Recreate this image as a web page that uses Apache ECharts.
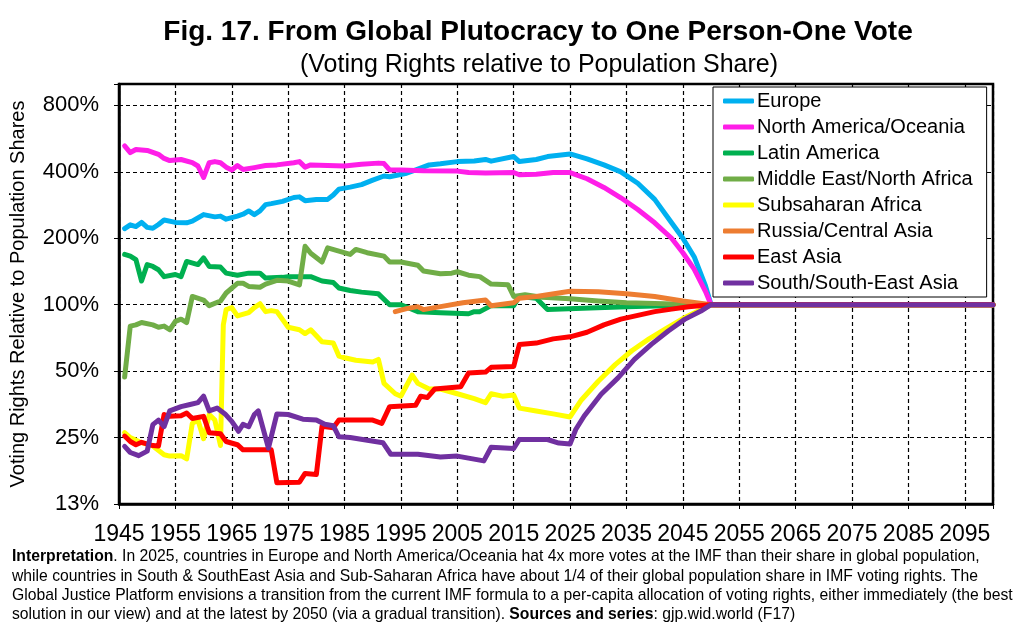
<!DOCTYPE html>
<html>
<head>
<meta charset="utf-8">
<script src="https://cdn.jsdelivr.net/npm/echarts@6/dist/echarts.min.js"></script>
<style>
  html, body { margin: 0; padding: 0; background: #fff; }
  #chart { width: 1024px; height: 632px; }
</style>
</head>
<body>
<div id="chart"></div>
<script>
// 数据：每个序列为 [年份, 投票权/人口份额]
const europe = [[1946,2.21],[1947,2.30],[1948,2.26],[1949,2.36],[1950,2.24],[1951,2.22],[1952,2.31],[1953,2.42],[1955,2.36],[1957,2.35],[1958,2.39],[1960,2.56],[1962,2.50],[1963,2.52],[1964,2.44],[1966,2.52],[1967,2.57],[1968,2.66],[1969,2.56],[1970,2.66],[1971,2.84],[1972,2.87],[1974,2.94],[1976,3.06],[1977,3.08],[1978,2.96],[1980,3.00],[1982,3.00],[1983,3.14],[1984,3.34],[1986,3.41],[1988,3.50],[1990,3.67],[1992,3.83],[1993,3.80],[1996,3.94],[1998,4.11],[2000,4.30],[2002,4.35],[2005,4.45],[2008,4.48],[2010,4.55],[2011,4.47],[2015,4.69],[2016,4.45],[2019,4.55],[2021,4.69],[2025,4.82],[2028,4.58],[2031,4.30],[2034,4.00],[2037,3.55],[2040,3.00],[2043,2.35],[2045,2.00],[2047,1.65],[2049,1.22],[2050,1.00],[2100,1.00]];
const northAmerica = [[1946,5.24],[1947,4.89],[1948,5.05],[1950,5.00],[1952,4.80],[1953,4.60],[1954,4.50],[1956,4.55],[1958,4.40],[1959,4.25],[1960,3.77],[1961,4.40],[1962,4.45],[1963,4.40],[1964,4.20],[1965,4.08],[1966,4.27],[1967,4.10],[1969,4.18],[1971,4.27],[1973,4.30],[1976,4.40],[1977,4.45],[1978,4.20],[1979,4.30],[1982,4.27],[1985,4.25],[1988,4.33],[1991,4.38],[1992,4.36],[1993,4.08],[1995,4.08],[1999,4.04],[2005,4.03],[2007,3.97],[2010,3.95],[2015,3.97],[2016,3.88],[2019,3.90],[2022,3.97],[2025,3.97],[2028,3.72],[2031,3.40],[2034,3.05],[2037,2.70],[2040,2.35],[2043,2.00],[2045,1.72],[2047,1.45],[2049,1.15],[2050,1.00],[2100,1.00]];
const latinAmerica = [[1946,1.69],[1947,1.66],[1948,1.60],[1949,1.28],[1950,1.52],[1951,1.49],[1952,1.44],[1953,1.34],[1955,1.37],[1956,1.34],[1957,1.57],[1959,1.52],[1960,1.63],[1961,1.49],[1963,1.48],[1964,1.39],[1966,1.36],[1968,1.39],[1970,1.39],[1971,1.32],[1974,1.33],[1975,1.34],[1979,1.34],[1981,1.28],[1983,1.26],[1984,1.19],[1986,1.16],[1988,1.14],[1991,1.12],[1993,1.00],[1995,1.00],[1998,0.93],[2002,0.92],[2007,0.91],[2008,0.93],[2009,0.93],[2011,0.99],[2015,0.99],[2016,1.09],[2019,1.07],[2021,0.95],[2026,0.96],[2035,0.98],[2045,0.995],[2050,1.00],[2100,1.00]];
const middleEast = [[1946,0.47],[1947,0.80],[1948,0.81],[1949,0.83],[1951,0.81],[1952,0.79],[1953,0.80],[1954,0.77],[1955,0.84],[1956,0.86],[1957,0.83],[1958,1.09],[1960,1.05],[1961,0.99],[1963,1.04],[1964,1.13],[1966,1.25],[1967,1.25],[1968,1.21],[1970,1.20],[1971,1.24],[1973,1.29],[1975,1.28],[1977,1.23],[1978,1.84],[1979,1.71],[1981,1.56],[1982,1.81],[1984,1.75],[1986,1.69],[1987,1.78],[1989,1.72],[1992,1.66],[1993,1.56],[1995,1.56],[1998,1.51],[1999,1.42],[2002,1.38],[2004,1.39],[2005,1.41],[2007,1.36],[2009,1.34],[2011,1.24],[2014,1.23],[2015,1.09],[2017,1.11],[2020,1.08],[2025,1.065],[2030,1.04],[2035,1.02],[2045,1.005],[2050,1.00],[2100,1.00]];
const subsaharan = [[1946,0.263],[1947,0.25],[1949,0.237],[1951,0.229],[1953,0.209],[1954,0.206],[1956,0.207],[1957,0.20],[1958,0.29],[1959,0.30],[1960,0.247],[1961,0.318],[1962,0.30],[1963,0.23],[1963.5,0.81],[1964,0.95],[1965,0.97],[1966,0.89],[1968,0.92],[1969,0.97],[1970,1.01],[1971,0.93],[1972,0.94],[1973,0.93],[1975,0.79],[1977,0.77],[1978,0.74],[1979,0.77],[1981,0.68],[1983,0.67],[1984,0.585],[1985,0.575],[1987,0.56],[1990,0.55],[1991,0.565],[1992,0.44],[1994,0.395],[1995,0.385],[1997,0.48],[1998,0.44],[2000,0.415],[2002,0.415],[2005,0.395],[2008,0.375],[2010,0.36],[2011,0.395],[2013,0.385],[2015,0.39],[2016,0.34],[2019,0.33],[2022,0.32],[2025,0.31],[2027,0.37],[2030,0.45],[2033,0.535],[2036,0.62],[2039,0.70],[2042,0.78],[2045,0.865],[2048,0.945],[2050,1.00],[2100,1.00]];
const russia = [[1994,0.93],[1996,0.96],[1998,0.98],[1999,0.95],[2002,0.98],[2006,1.02],[2010,1.05],[2011,0.99],[2015,1.02],[2016,1.07],[2019,1.09],[2023,1.13],[2025,1.15],[2030,1.145],[2035,1.12],[2040,1.09],[2045,1.04],[2050,1.00],[2100,1.00]];
const eastAsia = [[1946,0.254],[1947,0.24],[1948,0.232],[1949,0.238],[1951,0.23],[1952,0.229],[1953,0.318],[1954,0.312],[1956,0.314],[1957,0.323],[1958,0.305],[1960,0.312],[1961,0.263],[1963,0.26],[1964,0.24],[1966,0.232],[1967,0.22],[1972,0.22],[1973,0.156],[1977,0.157],[1978,0.172],[1980,0.17],[1981,0.281],[1983,0.277],[1984,0.30],[1990,0.30],[1991.6,0.29],[1993,0.345],[1997.6,0.35],[1998.5,0.385],[1999.7,0.38],[2001,0.415],[2005.6,0.425],[2007,0.49],[2010,0.495],[2011,0.52],[2015,0.525],[2016,0.66],[2019,0.67],[2022,0.70],[2025,0.715],[2028,0.75],[2031,0.81],[2034,0.86],[2037,0.895],[2040,0.93],[2043,0.955],[2046,0.978],[2050,1.00],[2100,1.00]];
const southAsia = [[1946,0.228],[1947,0.214],[1948.5,0.207],[1950,0.217],[1951,0.286],[1952,0.30],[1953,0.28],[1954,0.33],[1956,0.345],[1957.6,0.353],[1959,0.36],[1960,0.385],[1961,0.33],[1962.4,0.34],[1963.8,0.32],[1965,0.296],[1966.2,0.267],[1967,0.287],[1968,0.28],[1969,0.318],[1969.7,0.33],[1971.5,0.224],[1973,0.32],[1975,0.318],[1977.6,0.303],[1980,0.30],[1981.5,0.287],[1983,0.283],[1984,0.252],[1986,0.25],[1991.8,0.237],[1993.2,0.21],[1998,0.21],[2002,0.204],[2005,0.206],[2009.7,0.196],[2011,0.226],[2015,0.223],[2016,0.245],[2021,0.245],[2023,0.236],[2025,0.234],[2026,0.272],[2027.5,0.313],[2030.5,0.393],[2033.5,0.466],[2036.4,0.565],[2039.4,0.661],[2042.4,0.76],[2045.3,0.858],[2048.2,0.936],[2050,1.00],[2100,1.00]];

const seriesNames = ['Europe', 'North America/Oceania', 'Latin America', 'Middle East/North Africa', 'Subsaharan Africa', 'Russia/Central Asia', 'East Asia', 'South/South-East Asia'];
const seriesData = [europe, northAmerica, latinAmerica, middleEast, subsaharan, russia, eastAsia, southAsia];
const seriesColors = ['#00B0F0', '#FF1EE8', '#00B050', '#70AD47', '#FFFF00', '#ED7D31', '#FF0000', '#7030A0'];

const yearTicks = { min: 1945, max: 2100, step: 10 };
const ratioRange = { min: 0.125, max: 10 };

const sans = "'Liberation Sans', Arial, sans-serif";

const chart = echarts.init(document.getElementById('chart'), null, { renderer: 'canvas' });

chart.setOption({
  animation: false,
  backgroundColor: '#fff',
  title: [
    { text: 'Fig. 17. From Global Plutocracy to One Person-One Vote', left: 533, top: 13, textAlign: 'center',
      textStyle: { fontFamily: sans, fontSize: 28, fontWeight: 'bold', color: '#000' } },
    { text: '(Voting Rights relative to Population Share)', left: 534, top: 48, textAlign: 'center',
      textStyle: { fontFamily: sans, fontSize: 25, fontWeight: 'normal', color: '#000' } }
  ],
  grid: { left: 113, right: 31, top: 84, bottom: 128, show: true, borderColor: '#000', borderWidth: 2.5, backgroundColor: 'transparent' },
  legend: {
    orient: 'vertical', left: 713, top: 87,
    icon: 'roundRect', itemWidth: 31, itemHeight: 5, itemGap: 6,
    padding: [4, 14, 4, 10],
    backgroundColor: '#fff', borderColor: '#000', borderWidth: 1,
    textStyle: { fontFamily: sans, fontSize: 20, lineHeight: 20, color: '#000', padding: [0, 0, 0, -2] },
    data: seriesNames
  },
  xAxis: {
    type: 'value', min: yearTicks.min, max: yearTicks.max, interval: yearTicks.step,
    axisLine: { show: true, lineStyle: { color: '#000', width: 2.5 } },
    axisTick: { show: true, length: 5, lineStyle: { color: '#000', width: 1 } },
    axisLabel: { color: '#000', fontFamily: sans, fontSize: 23, margin: 19, showMinLabel: true,
      formatter: v => (v >= yearTicks.max ? '' : String(v)) },
    splitLine: { show: true, lineStyle: { color: '#000', width: 1.2, type: [4, 3] } }
  },
  yAxis: {
    type: 'log', logBase: 2, min: ratioRange.min, max: ratioRange.max, splitNumber: 7,
    name: 'Voting Rights Relative to Population Shares', nameLocation: 'middle', nameGap: 91,
    nameTextStyle: { fontFamily: sans, fontSize: 20, color: '#000' },
    axisLine: { show: true, lineStyle: { color: '#000', width: 2.5 } },
    axisTick: { show: true, length: 5, lineStyle: { color: '#000', width: 1 } },
    axisLabel: { color: '#000', fontFamily: sans, fontSize: 22, margin: 20,
      formatter: v => (v > 9 ? '' : Math.round(v * 100) + '%') },
    splitLine: { show: true, lineStyle: { color: '#000', width: 1.2, type: [4, 3] } }
  },
  series: seriesNames.map((name, i) => ({
    name, type: 'line', data: seriesData[i], showSymbol: false, symbol: 'none',
    color: seriesColors[i],
    lineStyle: { color: seriesColors[i], width: 5, cap: 'round', join: 'round' }
  })),
  graphic: [{
    type: 'text', x: 12, y: 547, scaleX: 0.925,
    style: {
      text: '{b|Interpretation}. In 2025, countries in Europe and North America/Oceania hat 4x more votes at the IMF than their share in global population,\n' +
        'while countries in South & SouthEast Asia and Sub-Saharan Africa have about 1/4 of their global population share in IMF voting rights. The\n' +
        'Global Justice Platform envisions a transition from the current IMF formula to a per-capita allocation of voting rights, either immediately (the best\n' +
        'solution in our view) and at the latest by 2050 (via a gradual transition). {b|Sources and series}: gjp.wid.world (F17)',
      font: '17px ' + sans,
      lineHeight: 19.3,
      fill: '#000',
      rich: { b: { fontFamily: sans, fontSize: 17, fontWeight: 'bold', lineHeight: 19.3 } }
    }
  }]
});
</script>
</body>
</html>
